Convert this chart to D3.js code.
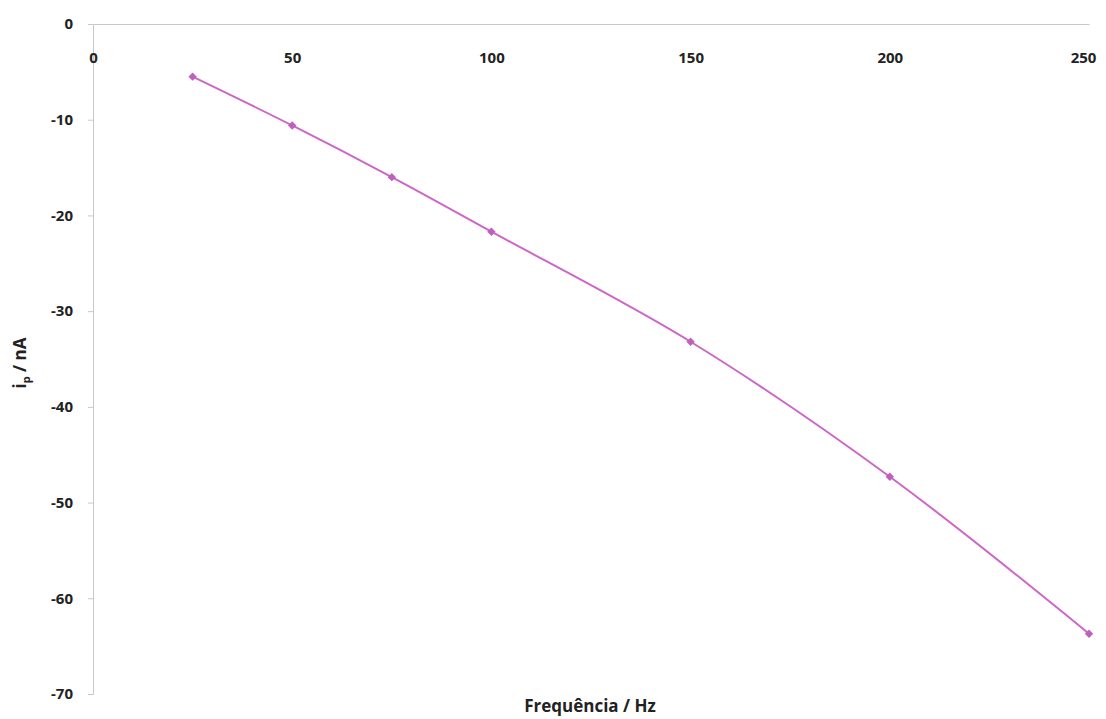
<!DOCTYPE html>
<html>
<head>
<meta charset="utf-8">
<script src="https://cdn.jsdelivr.net/npm/d3@7"></script>
<style>
  body { margin: 0; background: #fff; }
  text { font-family: "Open Sans", sans-serif; font-weight: bold; fill: #222; }
</style>
</head>
<body>
<div id="chart"></div>
<script>
// data
const FREQS = [25, 50, 75, 100, 150, 200, 250];
const CURRENTS = [-5.5, -10.6, -16.0, -21.7, -33.2, -47.3, -63.7];
const X_TICKS = [0, 50, 100, 150, 200, 250];
const Y_TICKS = [0, -10, -20, -30, -40, -50, -60, -70];

const WIDTH = 1106, HEIGHT = 719;
const MARGINS = {left: 93, right: 17, top: 24, bottom: 25};

const svg = d3.select("#chart").append("svg")
    .attr("width", WIDTH)
    .attr("height", HEIGHT);

const X_SCALE = d3.scaleLinear().domain([0, 250])
    .range([MARGINS.left, WIDTH - MARGINS.right]);
const Y_SCALE = d3.scaleLinear().domain([0, -70])
    .range([MARGINS.top, HEIGHT - MARGINS.bottom]);

// plain hyphen for negatives, like the original
const fmt = d => String(d);

// y axis
const yAxis = svg.append("g")
    .attr("transform", "translate(" + MARGINS.left + ",0)")
    .call(d3.axisLeft(Y_SCALE).tickValues(Y_TICKS).tickFormat(fmt).tickSize(5).tickPadding(15));
yAxis.select(".domain").attr("stroke", "#c8c8c8");
yAxis.selectAll(".tick line").attr("stroke", "#c8c8c8");
yAxis.selectAll(".tick text").attr("font-size", "15px");

// x axis along the zero line, labels placed below it
const xAxis = svg.append("g")
    .attr("transform", "translate(0," + Y_SCALE(0) + ")")
    .call(d3.axisBottom(X_SCALE).tickValues(X_TICKS).tickFormat(fmt).tickSize(0).tickPadding(28));
xAxis.select(".domain").attr("stroke", "#c8c8c8");
xAxis.selectAll(".tick text").attr("font-size", "15px")
    .attr("dx", d => d === 250 ? -6 : 0);

// series
const points = FREQS.map((f, i) => [f, CURRENTS[i]]);
const line = d3.line()
    .x(d => X_SCALE(d[0]))
    .y(d => Y_SCALE(d[1]))
    .curve(d3.curveCatmullRom);

svg.append("path")
    .datum(points)
    .attr("fill", "none")
    .attr("stroke", "#cc66c8")
    .attr("stroke-width", 2)
    .attr("d", line);

svg.selectAll(".pt")
    .data(points)
    .enter()
    .append("path")
    .attr("class", "pt")
    .attr("d", d3.symbol(d3.symbolDiamond2, 45))
    .attr("transform", d => "translate(" + X_SCALE(d[0]) + "," + Y_SCALE(d[1]) + ")")
    .attr("fill", "#c060bc");

// axis titles
svg.append("text")
    .attr("x", 590)
    .attr("y", 712)
    .attr("text-anchor", "middle")
    .attr("font-size", "17px")
    .text("Frequência / Hz");

const yTitle = svg.append("text")
    .attr("transform", "translate(26,363) rotate(-90)")
    .attr("text-anchor", "middle")
    .attr("font-size", "17px");
yTitle.append("tspan").text("i");
yTitle.append("tspan").attr("font-size", "11px").attr("dy", 4).text("p");
yTitle.append("tspan").attr("dy", -4).text(" / nA");
</script>
</body>
</html>
